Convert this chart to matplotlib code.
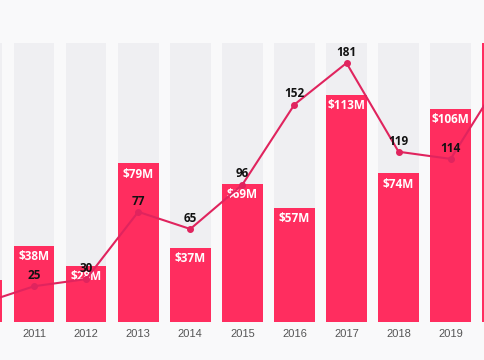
import matplotlib
matplotlib.use("Agg")
import matplotlib.pyplot as plt
import numpy as np

years = ["2010", "2011", "2012", "2013", "2014", "2015", "2016", "2017", "2018", "2019", "2020"]
revenue = [21, 38, 28, 79, 37, 69, 57, 113, 74, 106, 140]
counts = [13, 25, 30, 77, 65, 96, 152, 181, 119, 114, 172]
bar_labels = ["$%dM" % v for v in revenue]

BG = "#f9f9fa"
BAR = "#ff2d5f"
TRACK = "#efeff2"
LINE = "#e0245e"

fig = plt.figure(figsize=(4.85, 3.6), dpi=100, facecolor=BG)
ax = fig.add_axes([0, 38 / 360, 1, 279 / 360])
ax.set_facecolor(BG)
x = np.arange(len(years))
bar_max = 139
ax.bar(x, [bar_max] * len(x), width=0.78, color=TRACK, zorder=1)
ax.bar(x, revenue, width=0.78, color=BAR, zorder=2)
ax.set_ylim(0, bar_max)
for xi, v, lab in zip(x, revenue, bar_labels):
    ax.annotate(lab, (xi, min(v, bar_max)), xytext=(0, -3), textcoords="offset points",
                ha="center", va="top", color="white", fontsize=8.5, fontweight="bold",
                family="Open Sans", zorder=3)
ax.set_xticks(x)
ax.set_xticklabels(years, family="Liberation Sans", fontsize=8, color="#555555")
ax.tick_params(axis="x", length=0, pad=5)
ax.set_yticks([])
for s in ax.spines.values():
    s.set_visible(False)

ax2 = ax.twinx()
ax2.set_ylim(0, 195)
ax2.plot(x, counts, color=LINE, lw=1.5, marker="o", ms=4, zorder=5)
for xi, v in zip(x, counts):
    ax2.annotate(str(v), (xi, v), xytext=(0, 3), textcoords="offset points",
                 ha="center", va="bottom", color="#111111", fontsize=8.5,
                 fontweight="bold", family="Open Sans", zorder=6)
ax2.set_yticks([])
for s in ax2.spines.values():
    s.set_visible(False)
ax.set_xlim(0.345, 9.66)

fig.savefig("out.png", dpi=100, facecolor=BG)
